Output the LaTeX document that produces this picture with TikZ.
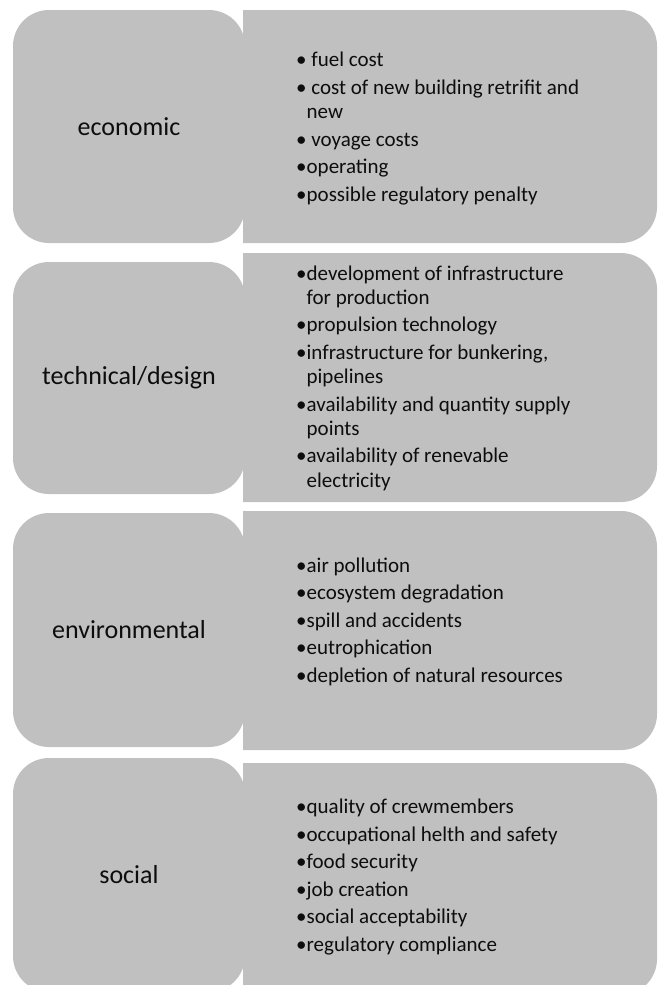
\documentclass[tikz,border=0pt]{standalone}
\usepackage{fontspec}
\setmainfont{Carlito}
\usetikzlibrary{positioning}
\definecolor{panelGray}{HTML}{C0C0C0}
\definecolor{ink}{HTML}{0D0D0D}

% right-hand panel: square on the left, rounded on the right (top y, bottom y)
\newcommand{\listpanel}[2]{%
  \fill[panelGray] (243,#1) -- (621,#1) arc[start angle=90,end angle=0,radius=36]
    -- (657,#2+36) arc[start angle=0,end angle=-90,radius=36] -- (243,#2) -- cycle;}
\newcommand{\cont}{\hphantom{•}}

\begin{document}
\begin{tikzpicture}[x=1pt,y=1pt,
    catbox/.style={fill=panelGray,rounded corners=36pt,minimum width=232pt,
      text=ink,font=\fontsize{26}{30}\selectfont},
    itemlist/.style={anchor=west,inner sep=0pt,align=left,text=ink,
      font=\fontsize{21}{24.2}\selectfont}]
  \useasboundingbox (0,0) rectangle (662,-985);
  \clip (0,0) rectangle (662,-985);

  % panels behind the category boxes
  \listpanel{-10}{-243}
  \listpanel{-253}{-502}
  \listpanel{-511}{-750}
  \listpanel{-763}{-995}

  \node[catbox,minimum height=233pt] (econ) at (129,-126.5) {economic};
  \node[catbox,minimum height=232pt] (tech) at (129,-378) {technical/design};
  \node[catbox,minimum height=234pt] (env) at (129,-630) {environmental};
  \node[catbox,minimum height=234pt] (soc) at (129,-875) {social};

  \node[itemlist] (econList) at (296,-128.5) {
    • fuel cost\\[3.3pt]
    • cost of new building retrifit and\\
    \cont new\\[3.3pt]
    • voyage costs\\[3.3pt]
    •operating\\[3.3pt]
    •possible regulatory penalty};

  \node[itemlist] (techList) at (296,-378) {
    •development of infrastructure\\
    \cont for production\\[3.3pt]
    •propulsion technology\\[3.3pt]
    •infrastructure for bunkering,\\
    \cont pipelines\\[3.3pt]
    •availability and quantity supply\\
    \cont points\\[3.3pt]
    •availability of renevable\\
    \cont electricity};

  \node[itemlist] (envList) at (296,-621.5) {
    •air pollution\\[3.3pt]
    •ecosystem degradation\\[3.3pt]
    •spill and accidents\\[3.3pt]
    •eutrophication\\[3.3pt]
    •depletion of natural resources};

  \node[itemlist] (socList) at (296,-877) {
    •quality of crewmembers\\[3.3pt]
    •occupational helth and safety\\[3.3pt]
    •food security\\[3.3pt]
    •job creation\\[3.3pt]
    •social acceptability\\[3.3pt]
    •regulatory compliance};
\end{tikzpicture}
\end{document}
